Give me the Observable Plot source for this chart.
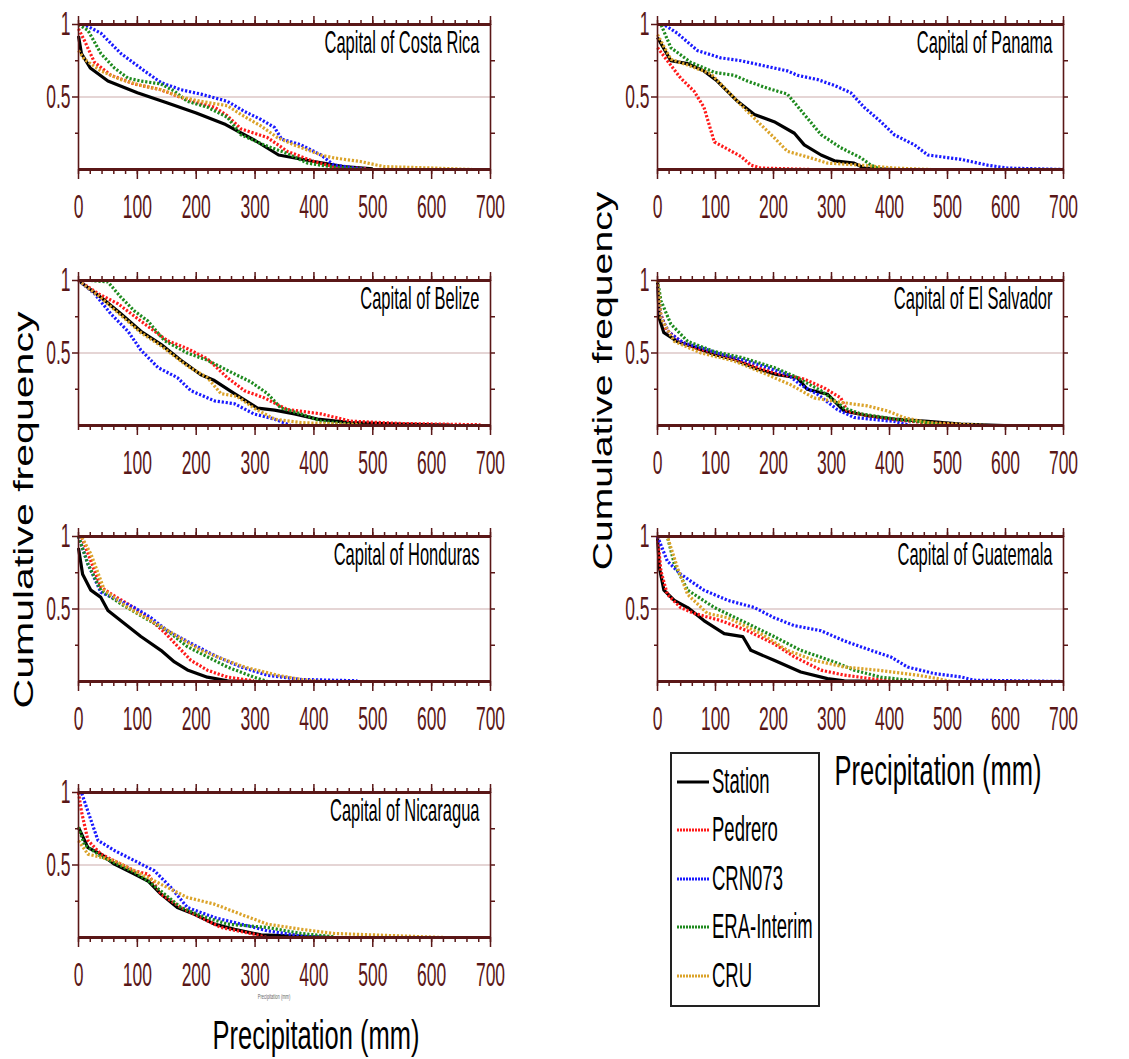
<!DOCTYPE html>
<html><head><meta charset="utf-8">
<script src="https://cdn.jsdelivr.net/npm/d3@7"></script>
<script src="https://cdn.jsdelivr.net/npm/@observablehq/plot@0.6"></script>
<style>
body{margin:0;background:#fff;}
#root{position:relative;width:1129px;height:1059px;overflow:hidden;font-family:"Liberation Sans",Arial,sans-serif;background:#fff;}
.panel{position:absolute;}
.lbl{position:absolute;white-space:nowrap;line-height:1;color:#000;}
</style></head>
<body><div id="root"></div>
<script>
// ---------------- data ----------------
const seriesNames = ["Station", "Pedrero", "CRN073", "ERA-Interim", "CRU"];
const seriesColors = ["#000000", "#ff1a1a", "#1a1aff", "#1e8a1e", "#dba32a"];
const panelTitles = ["Capital of Costa Rica", "Capital of Panama", "Capital of Belize", "Capital of El Salvador",
  "Capital of Honduras", "Capital of Guatemala", "Capital of Nicaragua"];
const xTickValues = [0, 100, 200, 300, 400, 500, 600, 700];
const xTickValuesNoZero = [100, 200, 300, 400, 500, 600, 700];

// Costa Rica
const crStation = [[0,.92],[5,.80],[20,.70],[50,.61],[100,.53],[150,.46],[200,.39],[250,.31],[300,.20],[340,.10],[400,.055],[450,.02],[500,.005]];
const crPedrero = [[0,.97],[10,.89],[27,.74],[55,.65],[95,.59],[140,.55],[185,.48],[231,.43],[253,.37],[276,.28],[321,.22],[355,.125],[400,.055],[434,.02],[490,.005]];
const crCRN = [[0,1],[10,1],[38,.94],[72,.80],[112,.68],[140,.60],[174,.55],[208,.52],[253,.47],[282,.40],[310,.345],[333,.29],[345,.21],[378,.17],[412,.10],[434,.03],[490,0]];
const crERA = [[0,1],[16,.96],[38,.80],[61,.70],[84,.63],[106,.61],[140,.59],[163,.54],[185,.47],[219,.43],[253,.36],[276,.24],[315,.17],[355,.11],[389,.044],[434,.016],[490,0]];
const crCRU = [[0,.82],[10,.76],[38,.68],[72,.62],[106,.58],[140,.55],[174,.50],[208,.47],[253,.44],[276,.38],[310,.30],[338,.22],[366,.17],[412,.10],[434,.08],[479,.055],[519,.02],[604,.01],[669,0]];
// Panama
const paStation = [[0,.91],[23,.75],[52,.73],[80,.68],[103,.61],[138,.47],[167,.38],[201,.33],[236,.25],[253,.17],[282,.10],[305,.06],[339,.044],[356,.01],[408,0]];
const paPedrero = [[0,.84],[17,.75],[40,.63],[63,.54],[80,.43],[98,.19],[121,.14],[144,.09],[161,.03],[178,.01],[264,0]];
const paCRN = [[0,1],[11,1],[34,.94],[69,.82],[109,.77],[144,.75],[178,.72],[224,.68],[241,.65],[276,.62],[305,.58],[333,.53],[356,.43],[385,.33],[408,.24],[443,.17],[466,.10],[523,.07],[569,.03],[603,.01],[700,0]];
const paERA = [[0,1],[6,1],[23,.84],[57,.74],[98,.67],[132,.65],[155,.61],[190,.56],[224,.52],[253,.38],[282,.24],[316,.15],[351,.08],[368,.03],[385,0]];
const paCRU = [[0,.93],[23,.76],[52,.72],[92,.66],[121,.54],[155,.40],[178,.31],[201,.22],[224,.125],[264,.08],[293,.044],[351,.03],[408,.01],[471,0]];
// Belize
const beStation = [[0,1],[38,.885],[72,.77],[106,.65],[140,.56],[174,.45],[208,.35],[231,.31],[265,.22],[304,.12],[333,.106],[367,.08],[406,.044],[462,.02],[547,.009],[632,.002]];
const bePedrero = [[0,1],[33,.91],[67,.84],[106,.72],[151,.585],[185,.53],[219,.46],[253,.33],[282,.24],[316,.19],[355,.11],[412,.08],[462,.03],[547,.014],[683,.005]];
const beCRN = [[0,1],[27,.91],[55,.77],[84,.65],[106,.52],[135,.40],[168,.33],[191,.24],[231,.17],[265,.15],[298,.08],[333,.044],[361,0]];
const beERA = [[0,1],[21,1],[50,.99],[72,.885],[95,.79],[118,.72],[146,.585],[185,.50],[219,.45],[253,.38],[293,.30],[321,.22],[344,.12],[378,.08],[412,.03],[462,.009],[490,0]];
const beCRU = [[0,1],[38,.88],[72,.76],[106,.64],[140,.55],[185,.41],[219,.33],[242,.22],[270,.20],[298,.12],[333,.044],[378,.02],[479,.005]];
// El Salvador
const esStation = [[0,1],[3,.74],[11,.64],[34,.58],[63,.54],[98,.49],[132,.456],[172,.39],[207,.35],[241,.33],[258,.25],[293,.216],[322,.10],[362,.067],[408,.044],[466,.028],[523,.009],[598,0]];
const esPedrero = [[0,1],[5,.78],[15,.66],[40,.58],[70,.53],[100,.50],[140,.45],[180,.39],[215,.35],[253,.32],[287,.26],[316,.19],[327,.10],[360,.07],[410,.04],[460,.02],[520,0]];
const esCRN = [[0,1],[5,.76],[20,.64],[45,.57],[80,.53],[110,.49],[150,.45],[190,.40],[225,.35],[247,.28],[276,.215],[310,.11],[339,.055],[408,.028],[437,0]];
const esERA = [[0,1],[6,.86],[23,.70],[52,.58],[98,.51],[144,.47],[201,.40],[236,.34],[282,.24],[322,.12],[351,.08],[410,.044],[465,.02],[494,0]];
const esCRU = [[0,1],[6,.74],[29,.58],[75,.50],[132,.445],[190,.35],[230,.28],[270,.19],[316,.16],[362,.135],[397,.10],[425,.055],[465,.02],[569,0]];
// Honduras
const hoStation = [[0,.92],[7,.74],[21,.63],[38,.58],[50,.49],[78,.40],[106,.31],[140,.215],[163,.135],[185,.08],[219,.03],[253,.005],[300,0]];
const hoPedrero = [[0,1],[5,1],[21,.83],[38,.65],[61,.59],[84,.535],[118,.44],[146,.34],[169,.24],[191,.146],[219,.078],[253,.03],[298,.005]];
const hoCRN = [[0,1],[16,.81],[38,.615],[95,.51],[123,.44],[151,.35],[202,.24],[236,.17],[276,.10],[321,.043],[378,.014],[474,.005]];
const hoERA = [[0,1],[16,.81],[38,.63],[72,.535],[112,.44],[151,.35],[185,.24],[219,.17],[253,.10],[298,.03],[321,0]];
const hoCRU = [[0,1],[5,1],[21,.88],[44,.63],[84,.51],[123,.42],[169,.31],[208,.215],[242,.16],[282,.10],[338,.043],[378,.014],[412,0]];
// Guatemala
const guStation = [[0,1],[3,.79],[11,.63],[29,.56],[52,.51],[80,.42],[115,.33],[147,.31],[161,.215],[201,.146],[247,.066],[293,.02],[322,.005],[400,0]];
const guPedrero = [[0,1],[6,.76],[17,.60],[40,.51],[63,.47],[109,.42],[155,.35],[201,.26],[236,.17],[282,.078],[322,.044],[379,.014],[437,0]];
const guCRN = [[0,1],[17,.83],[40,.74],[80,.63],[121,.56],[167,.51],[201,.44],[236,.385],[282,.35],[322,.28],[368,.215],[402,.17],[431,.10],[477,.055],[523,.032],[546,.009],[700,0]];
const guERA = [[0,1],[17,1],[29,.81],[52,.63],[98,.51],[155,.40],[201,.31],[247,.215],[305,.135],[339,.078],[385,.03],[443,.005]];
const guCRU = [[0,1],[17,1],[34,.79],[52,.60],[86,.47],[121,.44],[178,.33],[224,.215],[270,.146],[322,.10],[379,.078],[448,.044],[483,.02],[506,0]];
// Nicaragua
const niStation = [[0,.76],[16,.62],[38,.575],[61,.506],[95,.437],[118,.39],[140,.30],[168,.207],[197,.16],[231,.092],[265,.057],[310,.018],[434,0]];
const niPedrero = [[0,1],[5,.87],[16,.67],[38,.575],[95,.46],[118,.437],[140,.30],[174,.207],[208,.138],[242,.069],[298,.023],[321,0]];
const niCRN = [[0,1],[5,1],[16,.87],[33,.67],[61,.60],[95,.53],[129,.46],[157,.345],[185,.207],[231,.138],[276,.092],[321,.046],[378,.011],[420,0]];
const niERA = [[0,.76],[10,.64],[38,.56],[95,.45],[118,.39],[140,.32],[174,.207],[208,.15],[253,.092],[321,.069],[378,.028],[434,.005]];
const niCRU = [[0,.667],[16,.575],[61,.53],[106,.437],[151,.345],[185,.276],[231,.23],[276,.16],[321,.092],[378,.057],[434,.028],[547,.011],[621,0]];

// ---------------- layout ----------------
const AX = "#5a1717";
const ML = 70, MR = 15, MT = 20, MB = 50, IH = 145;
const panels = [
  {title: panelTitles[0], series: [crStation, crPedrero, crCRN, crERA, crCRU], left: 78, top: 24, iw: 412, ticks: xTickValues},
  {title: panelTitles[1], series: [paStation, paPedrero, paCRN, paERA, paCRU], left: 657, top: 24, iw: 406, ticks: xTickValues},
  {title: panelTitles[2], series: [beStation, bePedrero, beCRN, beERA, beCRU], left: 78, top: 280, iw: 412, ticks: xTickValuesNoZero},
  {title: panelTitles[3], series: [esStation, esPedrero, esCRN, esERA, esCRU], left: 657, top: 280, iw: 406, ticks: xTickValues},
  {title: panelTitles[4], series: [hoStation, hoPedrero, hoCRN, hoERA, hoCRU], left: 78, top: 536, iw: 412, ticks: xTickValues},
  {title: panelTitles[5], series: [guStation, guPedrero, guCRN, guERA, guCRU], left: 657, top: 536, iw: 406, ticks: xTickValues},
  {title: panelTitles[6], series: [niStation, niPedrero, niCRN, niERA, niCRU], left: 78, top: 792, iw: 412, ticks: xTickValues}
];

const root = document.getElementById("root");

function stretchTexts(svg, k) {
  svg.querySelectorAll("text").forEach(t => {
    let tr = t.getAttribute("transform") || "";
    const x = t.getAttribute("x"), y = t.getAttribute("y");
    if (x != null && /^-?[\d.]+$/.test(x)) { tr = `translate(${x},0) ` + tr; t.removeAttribute("x"); }
    if (y != null && /^-?[\d.]+$/.test(y)) { tr = `translate(0,${y}) ` + tr; t.removeAttribute("y"); }
    t.setAttribute("transform", tr + ` scale(1,${k})`);
  });
}

panels.forEach(p => {
  const lineMarks = [];
  seriesNames.forEach((name, k) => {
    const rows = p.series[k].map(([x, y]) => ({x, y, series: name}));
    const opts = {x: "x", y: "y", stroke: seriesColors[k], strokeWidth: 3.2, strokeLinecap: "butt"};
    if (k > 0) opts.strokeDasharray = "2.2,1.8";
    lineMarks.push(Plot.line(rows, opts));
  });
  const W = ML + p.iw + MR, H = MT + IH + MB;
  const svg = Plot.plot({
    width: W, height: H,
    marginLeft: ML, marginRight: MR, marginTop: MT, marginBottom: MB,
    x: {domain: [0, 700], label: null},
    y: {domain: [0, 1], label: null},
    style: {background: "transparent", overflow: "visible", fontFamily: "'Liberation Sans', Arial, sans-serif", color: AX},
    marks: [
      Plot.ruleY([0.5], {stroke: "#dcc7c7", strokeWidth: 1.6}),
      ...lineMarks,
      Plot.ruleX([0, 700], {stroke: AX, strokeWidth: 1.6}),
      Plot.ruleY([0, 1], {stroke: AX, strokeWidth: 3}),
      Plot.axisX(d3.range(0, 701, 20), {anchor: "top", tickSize: 5, tickFormat: () => "", label: null, strokeWidth: 1.5}),
      Plot.axisX(xTickValues, {anchor: "top", tickSize: 9, tickFormat: () => "", label: null, strokeWidth: 1.5}),
      Plot.axisX(d3.range(0, 701, 20), {anchor: "bottom", tickSize: 5, tickFormat: () => "", label: null, strokeWidth: 1.5}),
      Plot.axisX(p.ticks, {anchor: "bottom", tickSize: 10, tickPadding: 15, tickFormat: d => String(d), label: null, fontSize: 17.5, strokeWidth: 1.5}),
      Plot.axisY([0.5, 1], {anchor: "left", tickSize: 6, tickPadding: 2, tickFormat: d => (d === 1 ? "1" : "0.5"), label: null, fontSize: 17.5, strokeWidth: 1.5}),
      Plot.axisY([0.25, 0.75], {anchor: "left", tickSize: 3, tickFormat: () => "", label: null, strokeWidth: 1.5}),
      Plot.axisY([0.25, 0.5, 0.75], {anchor: "right", tickSize: 4, tickFormat: () => "", label: null, strokeWidth: 1.5}),
      Plot.text([p.title], {text: d => d, frameAnchor: "top-right", dx: -11, dy: 6, lineAnchor: "top", fontSize: 16.5, fill: "#000"})
    ]
  });
  stretchTexts(svg, 1.9);
  const div = document.createElement("div");
  div.className = "panel";
  div.style.left = (p.left - ML) + "px";
  div.style.top = (p.top - MT) + "px";
  div.style.width = W + "px";
  div.style.height = H + "px";
  div.appendChild(svg);
  root.appendChild(div);
});

// axis titles
function addLabel(text, cx, cy, size, transform) {
  const d = document.createElement("div");
  d.className = "lbl";
  d.textContent = text;
  d.style.fontSize = size + "px";
  d.style.left = cx + "px";
  d.style.top = cy + "px";
  d.style.transform = "translate(-50%,-50%) " + transform;
  root.appendChild(d);
  return d;
}
addLabel("Cumulative frequency", 24, 510, 27, "rotate(-90deg) scaleX(1.52)");
addLabel("Cumulative frequency", 603, 381, 27, "rotate(-90deg) scaleX(1.45)");
addLabel("Precipitation (mm)", 316, 1036, 25.5, "scaleY(1.6)");
addLabel("Precipitation (mm)", 938, 771, 25.5, "scaleY(1.65)");
const tiny = addLabel("Precipitation (mm)", 274, 997, 4, "scaleY(1.6)");
tiny.style.color = "#666";

// legend
const leg = document.createElement("div");
leg.style.cssText = "position:absolute;left:670px;top:752px;width:150px;height:255px;box-sizing:border-box;border:2px solid #222;";
root.appendChild(leg);
const legendY = [782, 830, 879, 927, 976];
seriesNames.forEach((name, k) => {
  const ns = "http://www.w3.org/2000/svg";
  const s = document.createElementNS(ns, "svg");
  s.setAttribute("width", 34); s.setAttribute("height", 8);
  s.style.cssText = `position:absolute;left:676px;top:${legendY[k] - 4}px;`;
  const ln = document.createElementNS(ns, "line");
  ln.setAttribute("x1", 1); ln.setAttribute("x2", 33); ln.setAttribute("y1", 4); ln.setAttribute("y2", 4);
  ln.setAttribute("stroke", seriesColors[k]); ln.setAttribute("stroke-width", 3);
  if (k > 0) ln.setAttribute("stroke-dasharray", "2,1");
  s.appendChild(ln);
  root.appendChild(s);
  const t = document.createElement("div");
  t.className = "lbl";
  t.textContent = name;
  t.style.fontSize = "18.5px";
  t.style.left = "712px";
  t.style.top = legendY[k] + "px";
  t.style.transform = "translateY(-50%) scaleY(1.9)";
  t.style.transformOrigin = "left center";
  root.appendChild(t);
});
</script>
</body></html>
